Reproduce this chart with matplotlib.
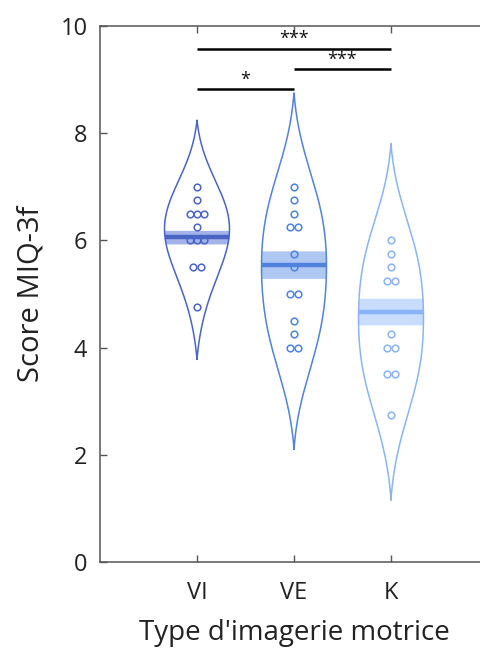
import numpy as np
import matplotlib
matplotlib.use("Agg")
import matplotlib.pyplot as plt

plt.rcParams['font.family'] = ['Open Sans', 'DejaVu Sans']

# ---- data ----
categories = ["VI", "VE", "K"]
vi_scores = [7.0, 6.75, 6.5, 6.5, 6.5, 6.25, 6.0, 6.0, 6.0, 5.5, 5.5, 4.75]
ve_scores = [7.0, 6.75, 6.5, 6.25, 6.25, 5.75, 5.5, 5.0, 5.0, 4.5, 4.25, 4.0, 4.0]
k_scores = [6.0, 5.75, 5.5, 5.25, 5.25, 4.25, 4.0, 4.0, 3.5, 3.5, 2.75]
group_means = [6.06, 5.55, 4.67]
group_sems = [0.13, 0.26, 0.255]
yticks = [0, 2, 4, 6, 8, 10]
# significance comparisons: (group i, group j, label)
comparisons = [(0, 1, "*"), (1, 2, "***"), (0, 2, "***")]
bar_levels = [8.82, 9.20, 9.58]

# ---- styles ----
line_colors = ["#4A64C4", "#5082DE", "#8AB4F8"]
band_colors = ["#A3B2E8", "#AFC7F3", "#C8DCFC"]
bandwidths = [0.72, 0.98, 0.97]
tip_threshold = 0.06
half_width = 0.335

fig = plt.figure(figsize=(4.8, 6.48), dpi=100)
ax = fig.add_axes([100/480, 86/648, 388/480, 536/648])


def kde(data, grid, bw):
    d = np.asarray(data)[:, None]
    return np.exp(-0.5 * ((grid[None, :] - d) / bw) ** 2).sum(axis=0)


groups = [vi_scores, ve_scores, k_scores]
for i, data in enumerate(groups):
    x0 = i + 1
    bw = bandwidths[i]
    grid = np.linspace(min(data) - 5 * bw, max(data) + 5 * bw, 1200)
    dens = kde(data, grid, bw)
    dens = dens / dens.max()
    dens = np.clip((dens - tip_threshold) / (1 - tip_threshold), 0, None)
    keep = np.where(dens > 0)[0]
    keep = np.arange(keep[0] - 1, keep[-1] + 2)
    grid, dens = grid[keep], dens[keep]
    w = dens * half_width
    # SEM band
    m, s = group_means[i], group_sems[i]
    sel = (grid >= m - s) & (grid <= m + s)
    ax.fill_betweenx(grid[sel], x0 - w[sel], x0 + w[sel], color=band_colors[i],
                     lw=0, zorder=2)
    # outline
    ax.plot(np.r_[x0 - w, (x0 + w)[::-1]],
            np.r_[grid, grid[::-1]], color=line_colors[i], lw=1.1,
            zorder=3)
    # mean line
    wm = np.interp(m, grid, w)
    ax.plot([x0 - wm, x0 + wm], [m, m], color=line_colors[i], lw=3.2,
            solid_capstyle='butt', zorder=4)
    # points (duplicates dodged side by side)
    vals = np.asarray(data)
    xs = np.zeros(len(vals))
    for v in np.unique(vals):
        idx = np.where(vals == v)[0]
        n = len(idx)
        xs[idx] = (np.arange(n) - (n - 1) / 2) * 0.075
    ax.plot(x0 + xs, vals, 'o', mfc='none', mec=line_colors[i], ms=4.8, mew=1.1,
            zorder=5)

# significance bars
for (a, b, lab), yl in zip(comparisons, bar_levels):
    ax.plot([a + 1, b + 1], [yl, yl], color='black', lw=1.8,
            solid_capstyle='butt', zorder=6, clip_on=False)
    ax.text((a + b) / 2 + 1, yl + 0.01, lab, ha='center', va='bottom',
            fontsize=13, color='#111111')

ax.set_xlim(0, 4)
ax.set_ylim(0, 10)
ax.set_xticks([1, 2, 3])
ax.set_xticklabels(categories)
ax.set_yticks(yticks)
ax.tick_params(direction='in', length=5, width=1, colors='#555555',
               labelcolor='#222222', labelsize=17, top=True, right=False)
ax.tick_params(axis='x', pad=14)
ax.tick_params(axis='y', pad=9)
for sp in ax.spines.values():
    sp.set_color('#555555')
    sp.set_linewidth(1.1)
ax.set_xlabel("Type d'imagerie motrice", fontsize=20, color='#222222', labelpad=10)
ax.set_ylabel("Score MIQ-3f", fontsize=21, color='#222222', labelpad=11)

fig.savefig("out.png", dpi=100)
